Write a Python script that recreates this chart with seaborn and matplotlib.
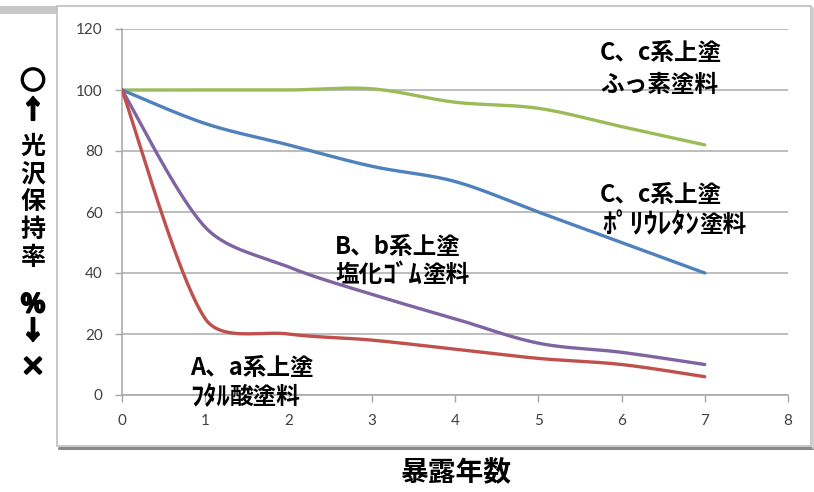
import numpy as np
import pandas as pd
import seaborn as sns
import matplotlib.pyplot as plt
import matplotlib.patheffects as pe
from matplotlib.patches import Rectangle
from matplotlib.lines import Line2D

sns.set_theme(style="white")
plt.rcParams['font.family'] = ['Noto Sans CJK JP', 'DejaVu Sans']

# Gloss retention (%) by years of exposure
years = [0, 1, 2, 3, 4, 5, 6, 7]
fluoro = [100, 100, 100, 100.4, 96, 94, 88, 82]
urethane = [100, 89, 82, 75, 70, 60, 50, 40]
chlor_rubber = [100, 55, 42, 33, 25, 17, 14, 10]
phthalic = [100, 25, 20, 18, 15, 12, 10, 6]

series_names = ["ふっ素", "ポリウレタン", "塩化ゴム", "フタル酸"]
series_values = [fluoro, urethane, chlor_rubber, phthalic]
series_colors = ["#9BBB59", "#4F81BD", "#8064A2", "#C0504D"]

x_ticks = [0, 1, 2, 3, 4, 5, 6, 7, 8]
y_ticks = [0, 20, 40, 60, 80, 100, 120]

FIG_W, FIG_H = 814, 492
AX_L, AX_R, AX_T, AX_B = 122, 788, 29, 395
sx = (AX_R - AX_L) / 8.0     # px per year
sy = (AX_B - AX_T) / 120.0   # px per percent


def smooth_curve(xs, ys, n=40, k=1.0 / 6.0):
    """Bezier smoothing (spreadsheet style) computed in screen proportions."""
    P = np.column_stack([np.asarray(xs, float) * sx, np.asarray(ys, float) * sy])
    out = []
    for i in range(len(P) - 1):
        p0 = P[i - 1] if i > 0 else P[i]
        p1, p2 = P[i], P[i + 1]
        p3 = P[i + 2] if i + 2 < len(P) else P[i + 1]
        seg = np.linalg.norm(p2 - p1)
        h1 = (p2 - p0) * k
        h2 = (p3 - p1) * k
        for h in (h1, h2):
            ln = np.linalg.norm(h)
            if ln > seg / 3.0:
                h *= (seg / 3.0) / ln
        c1 = p1 + h1
        c2 = p2 - h2
        t = np.linspace(0, 1, n, endpoint=(i == len(P) - 2))[:, None]
        b = ((1 - t) ** 3) * p1 + 3 * ((1 - t) ** 2) * t * c1 \
            + 3 * (1 - t) * t ** 2 * c2 + t ** 3 * p2
        out.append(b)
    pts = np.vstack(out)
    return pts[:, 0] / sx, pts[:, 1] / sy


frames = []
for name, vals in zip(series_names, series_values):
    cx, cy = smooth_curve(years, vals)
    frames.append(pd.DataFrame({"year": cx, "gloss": cy, "paint": name}))
df = pd.concat(frames, ignore_index=True)

fig = plt.figure(figsize=(FIG_W / 100, FIG_H / 100), dpi=100)
fig.patch.set_facecolor("white")

# chart-area frame with a soft shadow
fig.patches.append(Rectangle((0 / FIG_W, 1 - 14 / FIG_H), 57 / FIG_W, 8 / FIG_H,
                             transform=fig.transFigure, facecolor="#C8C8C8",
                             edgecolor="none", zorder=0))
fig.patches.append(Rectangle((57 / FIG_W, 1 - 446 / FIG_H), (811 - 57) / FIG_W,
                             (446 - 6) / FIG_H, transform=fig.transFigure,
                             fill=False, edgecolor="#BFBFBF", lw=1.2, zorder=1))
fig.lines.append(Line2D([59 / FIG_W, 813 / FIG_W], [1 - 448 / FIG_H, 1 - 448 / FIG_H],
                        transform=fig.transFigure, color="#8A8A8A", lw=2.2))
fig.lines.append(Line2D([813 / FIG_W, 813 / FIG_W], [1 - 448 / FIG_H, 1 - 8 / FIG_H],
                        transform=fig.transFigure, color="#D0D0D0", lw=1.5))

ax = fig.add_axes([AX_L / FIG_W, 1 - AX_B / FIG_H,
                   (AX_R - AX_L) / FIG_W, (AX_B - AX_T) / FIG_H])
ax.set_facecolor("white")

sns.lineplot(data=df, x="year", y="gloss", hue="paint", hue_order=series_names,
             palette=series_colors, estimator=None, sort=False, legend=False,
             linewidth=2.4, ax=ax, zorder=3)

ax.set_xlim(0, 8)
ax.set_ylim(0, 120)
ax.set_xticks(x_ticks)
ax.set_yticks(y_ticks)
ax.set_xlabel("")
ax.set_ylabel("")
ax.yaxis.grid(True, color="#ABABAB", lw=1.1)
ax.xaxis.grid(False)
for s in ("top", "right"):
    ax.spines[s].set_visible(False)
for s in ("left", "bottom"):
    ax.spines[s].set_color("#A6A6A6")
    ax.spines[s].set_linewidth(1.1)
ax.tick_params(axis="both", direction="out", length=5, width=1,
               color="#A6A6A6", labelsize=11, labelcolor="#404040", pad=9)
ax.tick_params(axis="y", left=True)
ax.tick_params(axis="x", bottom=True)
for lab in ax.get_xticklabels() + ax.get_yticklabels():
    lab.set_family(["Lato", "DejaVu Sans"])

# series labels; each line may be split into runs of different size
notes = [
    ([("C、c系上塗", 17)], 5.74, 112.1),
    ([("ふっ素塗料", 17)], 5.74, 101.6),
    ([("C、c系上塗", 17)], 5.74, 65.6),
    ([("ﾎﾟﾘｳﾚﾀﾝ", 20), ("塗料", 17)], 5.77, 55.7),
    ([("B、b系上塗", 17)], 2.56, 48.5),
    ([("塩化", 17), ("ｺﾞﾑ", 19), ("塗料", 17)], 2.56, 39.3),
    ([("A、a系上塗", 17)], 0.82, 8.9),
    ([("ﾌﾀﾙ", 19), ("酸塗料", 17)], 0.82, -0.7),
]
for runs, x, y in notes:
    prev = None
    for txt, size in runs:
        kw = dict(fontsize=size, fontweight="bold", color="black",
                  ha="left", va="center", zorder=5, annotation_clip=False)
        if prev is None:
            prev = ax.annotate(txt, xy=(x, y), xycoords="data", **kw)
        else:
            prev = ax.annotate(txt, xy=(1, 0.5), xycoords=prev, **kw)

# vertical axis title, one character per row
ylab_chars = ["○", "↑", "光", "沢", "保", "持", "率", "%", "↓", "×"]
ylab_rows = [82, 111, 147, 175, 202, 230, 258, 305, 332, 368]
heavy = [pe.withStroke(linewidth=1.6, foreground="black")]
for ch, py in zip(ylab_chars, ylab_rows):
    t = fig.text(33 / FIG_W, 1 - py / FIG_H, ch, fontsize=18, fontweight="bold",
                 ha="center", va="center", color="black")
    if ch in ("○", "%", "↑", "↓", "×"):
        t.set_path_effects(heavy)

fig.text(456 / FIG_W, 1 - 473 / FIG_H, "暴露年数", fontsize=20,
         fontweight="bold", ha="center", va="center", color="black")

fig.savefig("out.png", dpi=100)
